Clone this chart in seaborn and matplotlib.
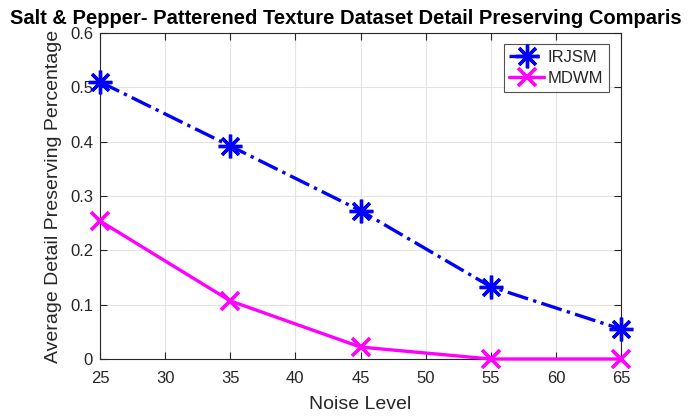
import matplotlib
matplotlib.use("Agg")
import matplotlib.pyplot as plt
import seaborn as sns
import pandas as pd

noise_levels = [25, 35, 45, 55, 65]
irjsm = [0.510, 0.392, 0.273, 0.133, 0.055]
mdwm = [0.254, 0.107, 0.022, 0.0, 0.0]
x_ticks = [25, 30, 35, 40, 45, 50, 55, 60, 65]
y_ticks = [0, 0.1, 0.2, 0.3, 0.4, 0.5, 0.6]

sns.set_style("white")
plt.rcParams["font.family"] = ["Liberation Sans", "DejaVu Sans"]

fig = plt.figure(figsize=(6.88, 4.16), dpi=100)
ax = fig.add_axes([100 / 688, 1 - 359 / 416, 521 / 688, 326 / 416])

df = pd.DataFrame({"Noise Level": noise_levels, "IRJSM": irjsm, "MDWM": mdwm})

sns.lineplot(data=df, x="Noise Level", y="IRJSM", ax=ax, color="#0000ff",
             linestyle="-.", linewidth=2.4, marker=(8, 2, 0), markersize=17,
             markeredgewidth=2.4, markeredgecolor="#0000ff", label="IRJSM",
             clip_on=False, zorder=4)
sns.lineplot(data=df, x="Noise Level", y="MDWM", ax=ax, color="#ff00ff",
             linestyle="-", linewidth=2.4, marker="x", markersize=13,
             markeredgewidth=2.6, markeredgecolor="#ff00ff", label="MDWM",
             clip_on=False, zorder=4)

ax.set_xlim(25, 65)
ax.set_ylim(0, 0.6)
ax.set_xticks(x_ticks)
ax.set_yticks(y_ticks)
ax.set_xticklabels([str(t) for t in x_ticks])
ax.set_yticklabels(["0", "0.1", "0.2", "0.3", "0.4", "0.5", "0.6"])
ax.grid(True, color="#e3e3e3", linewidth=0.8)
ax.set_axisbelow(True)

for side in ["left", "right", "top", "bottom"]:
    ax.spines[side].set_visible(True)
    ax.spines[side].set_color("#262626")
    ax.spines[side].set_linewidth(0.8)

ax.tick_params(axis="both", which="both", direction="in", length=5, width=0.8,
               color="#262626", labelcolor="#262626", labelsize=12,
               top=True, right=True, bottom=True, left=True)
ax.tick_params(axis="x", pad=8.5)
ax.tick_params(axis="y", pad=5)

ax.set_xlabel("Noise Level", fontsize=14, color="#262626", labelpad=7)
ax.set_ylabel("Average Detail Preserving Percentage", fontsize=14,
              color="#262626")
ax.yaxis.set_label_coords(-38 / 521, 0.5)

leg = ax.legend(loc="upper right", bbox_to_anchor=(509 / 521, 315 / 326),
                borderaxespad=0, frameon=True, fancybox=False, fontsize=12,
                handlelength=2.1, handletextpad=0.2, borderpad=0.35,
                labelspacing=0.35)
leg.get_frame().set_edgecolor("#262626")
leg.get_frame().set_linewidth(0.8)
for t in leg.get_texts():
    t.set_color("#262626")

fig.text(10 / 688, 1 - 24 / 416,
         "Salt & Pepper- Patterened Texture Dataset Detail Preserving Comparis",
         fontsize=14.5, fontweight="bold", ha="left", va="baseline",
         color="black")

fig.savefig("out.png", dpi=100)
